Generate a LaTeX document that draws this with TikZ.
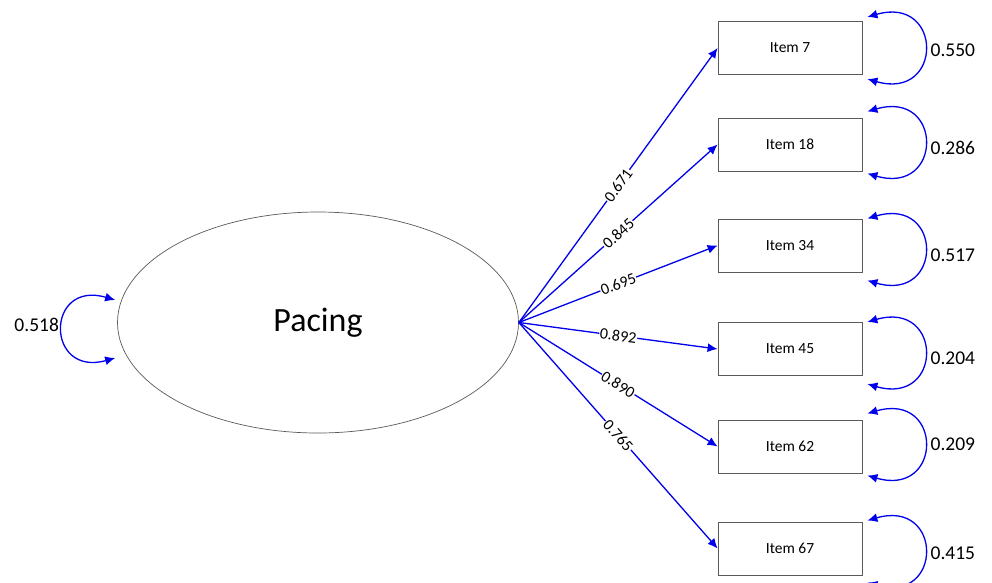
\documentclass[tikz,border=0pt]{standalone}
\usepackage{fontspec}
\setmainfont{Carlito}
\usetikzlibrary{arrows.meta,calc,shapes.geometric}
\definecolor{pathblue}{RGB}{0,0,235}
\definecolor{edgegray}{RGB}{90,90,90}
\begin{document}
\begin{tikzpicture}[x=1pt,y=-1pt,
  itembox/.style={draw=edgegray, line width=0.8pt, minimum width=144pt, minimum height=53pt, inner sep=0pt, font=\fontsize{15.5}{18}\selectfont},
  latent/.style={draw=edgegray, line width=0.7pt, ellipse, minimum width=401pt, minimum height=221pt, inner sep=0pt, font=\fontsize{34}{40}\selectfont},
  load/.style={pathblue, line width=1.3pt, -{Latex[length=10pt,width=9pt]}},
  var/.style={pathblue, line width=1.3pt, {Latex[length=10pt,width=9pt]}-{Latex[length=10pt,width=9pt]}},
  loadlab/.style={sloped, fill=white, inner sep=0.8pt, text=black, font=\fontsize{16}{18}\selectfont},
  varlab/.style={anchor=west, inner sep=0pt, font=\fontsize{19.5}{22}\selectfont}
]
\useasboundingbox (0,0) rectangle (992,582);
\fill[white] (0,0) rectangle (992,582);

\node[latent] (pacing) at (318,322.5) {Pacing};

\node[itembox] (i7)  at (790,48)    {Item 7};
\node[itembox] (i18) at (790,144.5) {Item 18};
\node[itembox] (i34) at (790,245.5) {Item 34};
\node[itembox] (i45) at (790,349)   {Item 45};
\node[itembox] (i62) at (790,446.5) {Item 62};
\node[itembox] (i67) at (790,548.5) {Item 67};

\draw[load] (pacing.east) -- node[loadlab] {0.671} (i7.west);
\draw[load] (pacing.east) -- node[loadlab] {0.845} (i18.west);
\draw[load] (pacing.east) -- node[loadlab] {0.695} (i34.west);
\draw[load] (pacing.east) -- node[loadlab] {0.892} (i45.west);
\draw[load] (pacing.east) -- node[loadlab] {0.890} (i62.west);
\draw[load] (pacing.east) -- node[loadlab] {0.765} (i67.west);

% residual variances
\foreach \n/\d/\l/\v in {i7/0/2/0.550, i18/-2/3.5/0.286, i34/4/9.5/0.517, i45/4/9/0.204, i62/-2/-2.5/0.209, i67/3/4.5/0.415}{
  \draw[var] ([shift={(5,\d-31)}]\n.east) .. controls ([shift={(81,\d-53)}]\n.east) and ([shift={(81,\d+53)}]\n.east) .. ([shift={(5,\d+31)}]\n.east);
  \node[varlab] (v\n) at ([shift={(68,\l)}]\n.east) {\v};
}

% latent variance
\draw[var] ([shift={(-2,-22.5)}]pacing.west) .. controls ([shift={(-72,-43)}]pacing.west) and ([shift={(-72,55)}]pacing.west) .. ([shift={(-2,35.5)}]pacing.west);
\node[varlab, anchor=east] (vpacing) at ([shift={(-58,2.5)}]pacing.west) {0.518};
\end{tikzpicture}
\end{document}
